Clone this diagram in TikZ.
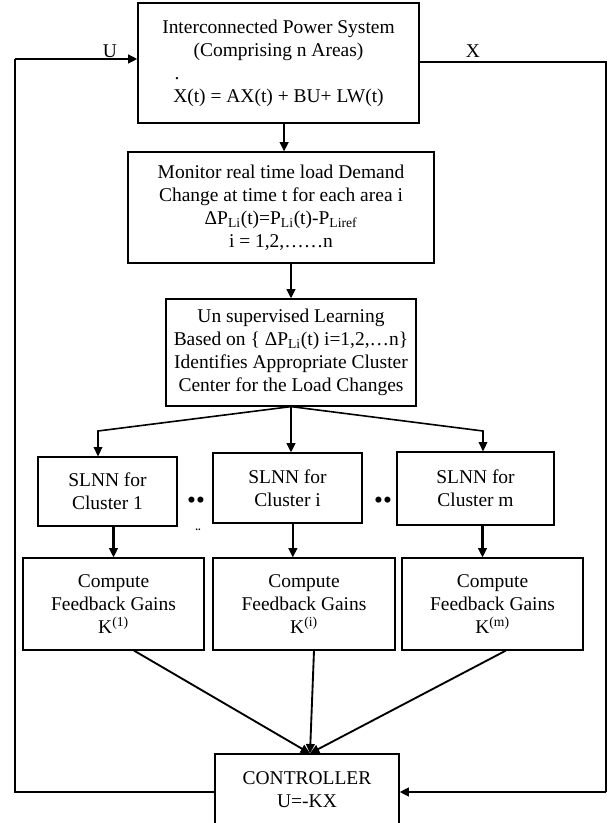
\documentclass[tikz,border=0pt]{standalone}
\usepackage{fontspec}
\setmainfont{Liberation Serif}
\usetikzlibrary{arrows.meta}
\tikzset{
	blk/.style={draw, line width=0.9pt, align=center, inner sep=0pt, font=\fontsize{14.6}{17.25}\selectfont},
	arr/.style={line width=1.6pt, -{Triangle[length=7pt,width=6.5pt]}},
	fb/.style={line width=1pt},
	lbl/.style={font=\fontsize{14.6}{17.25}\selectfont, inner sep=0pt}
}
\begin{document}
\begin{tikzpicture}[x=0.75pt,y=-0.75pt]
	\useasboundingbox (0,0) rectangle (613,823);
	\node[blk, minimum width=210.75pt, minimum height=90pt] (sys) at (278.5,63) {Interconnected Power System\\(Comprising n Areas)\\\makebox[0pt]{.\hspace{152pt}}\\X(t) = AX(t) + BU+ LW(t)};
	\node[blk, minimum width=229.5pt, minimum height=83.25pt] (mon) at (281,207.5) {Monitor real time load Demand\\Change at time t for each area i\\ΔP\textsubscript{Li}(t)=P\textsubscript{Li}(t)-P\textsubscript{Liref}\\i = 1,2,……n};
	\node[blk, minimum width=187.5pt, minimum height=80.25pt] (learn) at (291,352.5) {Un supervised Learning\\Based on \{ ΔP\textsubscript{Li}(t) i=1,2,…n\}\\Identifies Appropriate Cluster\\Center for the Load Changes};
	
	\node[blk, minimum width=104.25pt, minimum height=51.75pt] (slnn1) at (107.5,491.5) {SLNN for\\Cluster 1};
	\node[blk, minimum width=111.75pt, minimum height=52.5pt] (slnni) at (287.5,488) {SLNN for\\Cluster i};
	\node[blk, minimum width=117.75pt, minimum height=54.75pt] (slnnm) at (475.5,488.5) {SLNN for\\Cluster m};
	\node[lbl, font=\fontsize{19}{19}\selectfont] (dots1) at (196,503) {••};
	\node[lbl, font=\fontsize{19}{19}\selectfont] (dots2) at (383,503) {••};
	\node[lbl, font=\fontsize{8}{8}\selectfont\bfseries] (dots3) at (198,530) {..};
	
	\node[blk, minimum width=135.75pt, minimum height=69pt] (gain1) at (113.5,604) {Compute\\Feedback Gains\\K\textsuperscript{(1)}};
	\node[blk, minimum width=136.5pt, minimum height=69pt] (gaini) at (304,604) {Compute\\Feedback Gains\\K\textsuperscript{(i)}};
	\node[blk, minimum width=135.75pt, minimum height=69pt] (gainm) at (492.5,604) {Compute\\Feedback Gains\\K\textsuperscript{(m)}};
	
	\node[blk, minimum width=138pt, minimum height=54pt] (ctrl) at (307,790) {CONTROLLER\\U=-KX};
	
	\node[lbl] (ulbl) at (110,51) {U};
	\node[lbl] (xlbl) at (473,51) {X};
	
	\coordinate (ul) at (15,59);
	\coordinate (ll) at (15,792);
	\coordinate (ur) at (606,62);
	\coordinate (lr) at (606,792);
	\coordinate (bl) at (98,431);
	\coordinate (br) at (483,431);
	
	\draw[arr] ([xshift=4.2pt]sys.south) -- ([xshift=4.2pt]sys.south |- mon.north);
	\draw[arr] (learn.north |- mon.south) -- (learn.north);
	\draw[arr, line width=1.2pt] (learn.south) -- (bl) -- (bl |- slnn1.north);
	\draw[arr] (learn.south) -- (learn.south |- slnni.north);
	\draw[arr, line width=1.2pt] (learn.south) -- (br) -- (br |- slnnm.north);
	\draw[arr] (gain1.north |- slnn1.south) -- (gain1.north);
	\draw[arr] ([xshift=4pt]slnni.south) -- ([xshift=4pt]slnni.south |- gaini.north);
	\draw[arr] ([xshift=5.25pt]slnnm.south) -- ([xshift=5.25pt]slnnm.south |- gainm.north);
	\draw[arr, line width=1.4pt] ([xshift=15.4pt]gain1.south) -- ([xshift=2.25pt]ctrl.north);
	\draw[arr, line width=1.4pt] ([xshift=7.5pt]gaini.south) -- ([xshift=2.25pt]ctrl.north);
	\draw[arr, line width=1.4pt] ([xshift=10pt]gainm.south) -- ([xshift=2.25pt]ctrl.north);
	
	\draw[fb] (ll -| ctrl.west) -- (ll) -- (ul);
	\draw[arr, line width=1.8pt] (ul) -- (ul -| sys.west);
	\draw[line width=0.9pt] (ur -| sys.east) -- (ur) -- (lr);
	\draw[arr, line width=2.2pt] (lr) -- (lr -| ctrl.east);
\end{tikzpicture}
\end{document}
